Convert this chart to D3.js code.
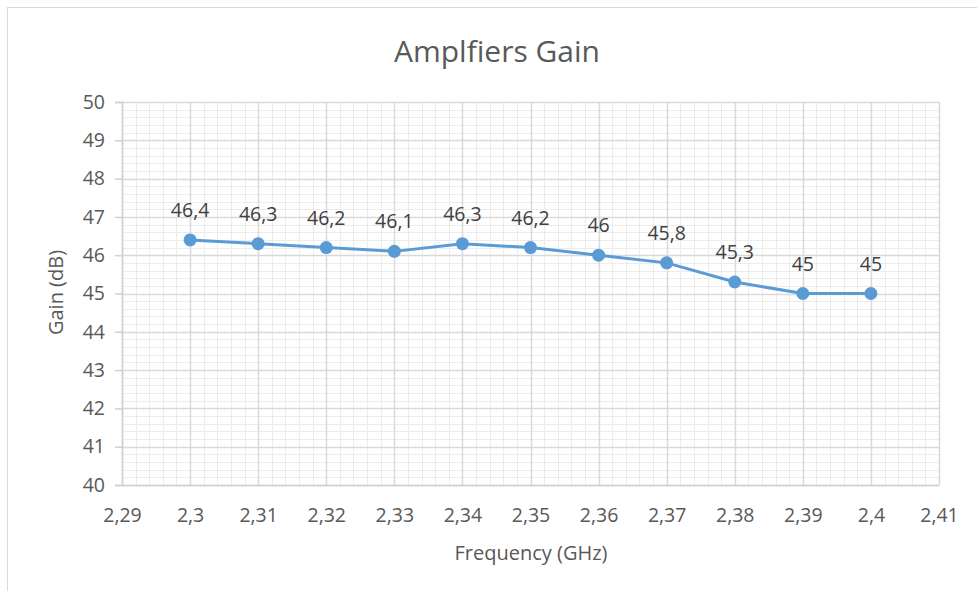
<!DOCTYPE html>
<html>
<head>
<meta charset="utf-8">
<script src="https://cdn.jsdelivr.net/npm/d3@7"></script>
<style>
  body { margin: 0; background: #fff; }
  svg { display: block; font-family: "Open Sans", sans-serif; }
</style>
</head>
<body>
<div id="chart"></div>
<script>
  const frequencies = [2.30, 2.31, 2.32, 2.33, 2.34, 2.35, 2.36, 2.37, 2.38, 2.39, 2.40];
  const gains = [46.4, 46.3, 46.2, 46.1, 46.3, 46.2, 46.0, 45.8, 45.3, 45.0, 45.0];
  const xTicks = [2.29, 2.30, 2.31, 2.32, 2.33, 2.34, 2.35, 2.36, 2.37, 2.38, 2.39, 2.40, 2.41];
  const yTicks = [40, 41, 42, 43, 44, 45, 46, 47, 48, 49, 50];

  const width = 977, height = 591;
  const margin = { top: 102, right: 38, bottom: 106, left: 122 };
  const innerWidth = width - margin.left - margin.right;
  const innerHeight = height - margin.top - margin.bottom;

  const data = frequencies.map((f, i) => ({ freq: f, gain: gains[i] }));
  const comma = v => String(+v.toFixed(2)).replace(".", ",");

  const svg = d3.select("#chart")
    .append("svg")
    .attr("width", width)
    .attr("height", height);

  // chart border
  svg.append("rect")
    .attr("x", 7.5)
    .attr("y", 7.5)
    .attr("width", width - 7)
    .attr("height", height - 7)
    .attr("fill", "none")
    .attr("stroke", "#d9d9d9");

  svg.append("text")
    .attr("x", 497)
    .attr("y", 62)
    .attr("text-anchor", "middle")
    .attr("font-size", 30)
    .attr("fill", "#595959")
    .text("Amplfiers Gain");

  const g = svg.append("g")
    .attr("transform", `translate(${margin.left},${margin.top})`);

  const x = d3.scaleLinear().domain([2.29, 2.41]).range([0, innerWidth]);
  const y = d3.scaleLinear().domain([40, 50]).range([innerHeight, 0]);

  // minor grid
  const xMinor = d3.range(0, 60 + 1).map(i => 2.29 + i * 0.002);
  const yMinor = d3.range(0, 50 + 1).map(i => 40 + i * 0.2);

  g.append("g").selectAll("line")
    .data(xMinor)
    .join("line")
    .attr("x1", d => Math.round(x(d)) + 0.5)
    .attr("x2", d => Math.round(x(d)) + 0.5)
    .attr("y1", 0)
    .attr("y2", innerHeight)
    .attr("stroke", "#ececec");

  g.append("g").selectAll("line")
    .data(yMinor)
    .join("line")
    .attr("y1", d => Math.round(y(d)) + 0.5)
    .attr("y2", d => Math.round(y(d)) + 0.5)
    .attr("x1", 0)
    .attr("x2", innerWidth)
    .attr("stroke", "#ececec");

  // major grid
  g.append("g").selectAll("line")
    .data(xTicks)
    .join("line")
    .attr("x1", d => Math.round(x(d)) + 0.5)
    .attr("x2", d => Math.round(x(d)) + 0.5)
    .attr("y1", 0)
    .attr("y2", innerHeight)
    .attr("stroke", "#d9d9d9")
    .attr("stroke-width", 1.5);

  g.append("g").selectAll("line")
    .data(yTicks)
    .join("line")
    .attr("y1", d => Math.round(y(d)) + 0.5)
    .attr("y2", d => Math.round(y(d)) + 0.5)
    .attr("x1", 0)
    .attr("x2", innerWidth)
    .attr("stroke", "#d9d9d9")
    .attr("stroke-width", 1.5);

  // axes
  const yAxis = g.append("g")
    .call(d3.axisLeft(y).tickValues(yTicks).tickSize(7).tickPadding(10).tickFormat(d3.format("d")));
  const xAxis = g.append("g")
    .attr("transform", `translate(0,${innerHeight})`)
    .call(d3.axisBottom(x).tickValues(xTicks).tickSize(0).tickPadding(23).tickFormat(comma));

  [yAxis, xAxis].forEach(a => {
    a.select(".domain").attr("stroke", "#d0d0d0").attr("stroke-width", 1.5);
    a.selectAll(".tick line").attr("stroke", "#d0d0d0").attr("stroke-width", 1.5);
    a.selectAll("text").attr("fill", "#595959").attr("font-size", 19.5).attr("font-family", "'Open Sans', sans-serif");
  });

  g.append("text")
    .attr("transform", "rotate(-90)")
    .attr("x", -innerHeight / 2 + 1)
    .attr("y", -59)
    .attr("text-anchor", "middle")
    .attr("font-size", 20)
    .attr("fill", "#595959")
    .text("Gain (dB)");

  g.append("text")
    .attr("x", 531 - margin.left)
    .attr("y", innerHeight + 75)
    .attr("text-anchor", "middle")
    .attr("font-size", 20)
    .attr("fill", "#595959")
    .text("Frequency (GHz)");

  const line = d3.line()
    .x(d => x(d.freq))
    .y(d => y(d.gain));

  g.append("path")
    .datum(data)
    .attr("fill", "none")
    .attr("stroke", "#5b9bd5")
    .attr("stroke-width", 3)
    .attr("d", line);

  g.selectAll(".dot")
    .data(data)
    .join("circle")
    .attr("cx", d => x(d.freq))
    .attr("cy", d => y(d.gain))
    .attr("r", 6.5)
    .attr("fill", "#5b9bd5");

  g.selectAll(".lbl")
    .data(data)
    .join("text")
    .attr("x", d => x(d.freq))
    .attr("y", d => y(d.gain) - 23)
    .attr("text-anchor", "middle")
    .attr("font-size", 19.5)
    .attr("fill", "#404040")
    .text(d => comma(d.gain));
</script>
</body>
</html>
